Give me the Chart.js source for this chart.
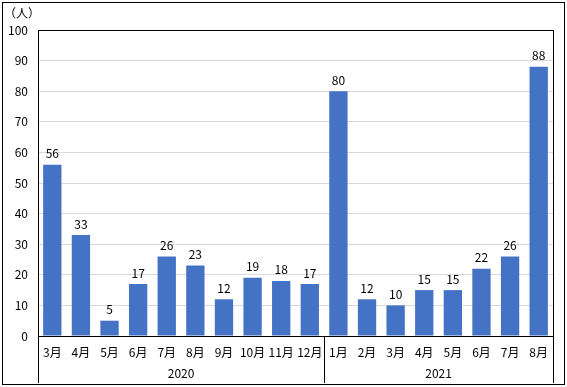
<!DOCTYPE html>
<html><head><meta charset="utf-8">
<script src="https://cdn.jsdelivr.net/npm/chart.js@4"></script>
<style>html,body{margin:0;padding:0;background:#fff}#wrap{width:567px;height:387px}</style>
</head><body><div id="wrap"><canvas id="c" width="567" height="387"></canvas></div>
<script>
const months = ['3月','4月','5月','6月','7月','8月','9月','10月','11月','12月','1月','2月','3月','4月','5月','6月','7月','8月'];
const values = [56,33,5,17,26,23,12,19,18,17,80,12,10,15,15,22,26,88];
const years = ['2020','2021'];
const yearCounts = [10,8];
const unitLabel = '（人）';
const FONT = '"Noto Sans CJK JP", "Liberation Sans", sans-serif';

const deco = {
  id:'deco',
  afterDraw(chart){
    const ctx = chart.ctx, ca = chart.chartArea, xs = chart.scales.x;
    ctx.save();
    // data labels
    const meta = chart.getDatasetMeta(0);
    ctx.fillStyle = '#000';
    ctx.font = '12px ' + FONT;
    ctx.textAlign = 'center';
    ctx.textBaseline = 'bottom';
    meta.data.forEach((el,i)=>{ ctx.fillText(String(values[i]), el.x, el.y - 5); });
    // plot border
    ctx.strokeStyle = '#000'; ctx.lineWidth = 1;
    ctx.strokeRect(Math.round(ca.left)+0.5, Math.round(ca.top)+0.5, Math.round(ca.right-ca.left), Math.round(ca.bottom-ca.top));
    // group separators and year labels
    const half = (xs.getPixelForValue(1) - xs.getPixelForValue(0))/2;
    let idx = 0;
    const bounds = [xs.getPixelForValue(0)-half];
    yearCounts.forEach(n=>{ idx += n; bounds.push(xs.getPixelForValue(idx-1)+half); });
    ctx.beginPath();
    bounds.forEach(b=>{ const x = Math.round(b)+0.5; ctx.moveTo(x, ca.bottom); ctx.lineTo(x, 383); });
    ctx.stroke();
    ctx.textBaseline = 'middle';
    years.forEach((y,i)=>{ ctx.fillText(y, (bounds[i]+bounds[i+1])/2, 373); });
    // unit label
    ctx.textAlign = 'left';
    ctx.fillText(unitLabel, 4, 13);
    // outer border
    ctx.strokeRect(2.5, 2.5, 562, 382);
    ctx.restore();
  }
};

new Chart(document.getElementById('c'), {
  type:'bar',
  data:{ labels: months, datasets:[{ data: values, backgroundColor:'#4472C4', barPercentage:0.64, categoryPercentage:1 }] },
  options:{
    responsive:false, animation:false,
    layout:{ padding:{ left:0, right:14, top:30, bottom:0 } },
    plugins:{ legend:{display:false}, tooltip:{enabled:false} },
    scales:{
      x:{
        grid:{ display:false, drawTicks:false },
        border:{ display:true, color:'#000' },
        ticks:{ color:'#000', font:{ size:12, family:FONT }, padding:9, maxRotation:0, autoSkip:false },
        afterFit(s){ s.height = 51; }
      },
      y:{
        min:0, max:100,
        grid:{ color:'#d9d9d9', drawTicks:false },
        border:{ display:true, color:'#000' },
        ticks:{ stepSize:10, color:'#000', font:{ size:12, family:FONT }, padding:10 },
        afterFit(s){ s.width = 38; }
      }
    }
  },
  plugins:[deco]
});
</script></body></html>
